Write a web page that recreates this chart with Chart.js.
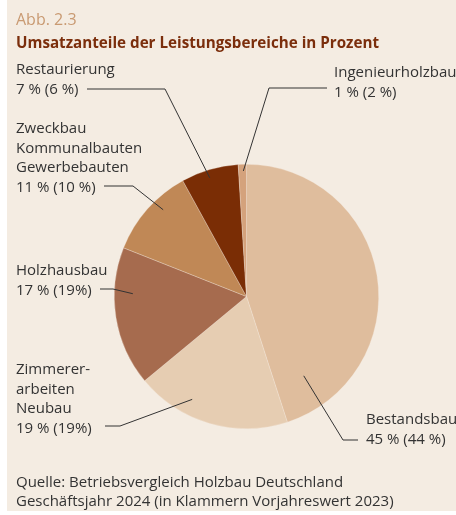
<!DOCTYPE html>
<html lang="de">
<head>
  <meta charset="UTF-8" />
  <title>Umsatzanteile der Leistungsbereiche</title>
  <script src="https://cdn.jsdelivr.net/npm/chart.js"></script>
  <style>
    * { box-sizing: border-box; }
    body { margin: 0; background: #fff; font-family: "Open Sans", sans-serif; overflow: hidden; }
    #panel {
      position: absolute; left: 7px; top: 0; width: 449px; height: 511px;
      background: #f4ece2;
    }
    #stage { position: absolute; left: 0; top: 0; width: 456px; height: 515px; }
    .txt { position: absolute; font-size: 15px; line-height: 19.4px; color: #333; white-space: pre; }
    #abb { left: 16px; top: 10px; font-size: 16px; color: #c99a72; }
    #title { left: 16px; top: 33px; font-size: 15.2px; font-weight: 700; color: #7b2e0c; }
    #source { left: 16px; top: 472px; }
  </style>
</head>
<body>
  <div id="panel"></div>
  <div id="stage"><canvas id="pie"></canvas></div>
  <div class="txt" id="abb">Abb. 2.3</div>
  <div class="txt" id="title">Umsatzanteile der Leistungsbereiche in Prozent</div>
  <div class="txt" id="source">Quelle: Betriebsvergleich Holzbau Deutschland
Geschäftsjahr 2024 (in Klammern Vorjahreswert 2023)</div>

  <script>
    // --- Daten (im Uhrzeigersinn ab 12 Uhr) ---
    const categories = ['Bestandsbau', 'Zimmerer-\narbeiten\nNeubau', 'Holzhausbau',
                        'Zweckbau\nKommunalbauten\nGewerbebauten', 'Restaurierung', 'Ingenieurholzbau'];
    const share2024 = [45, 19, 17, 11, 7, 1];
    const share2023 = [44, 19, 19, 10, 6, 2];
    const valueLabels = ['45 % (44 %)', '19 % (19%)', '17 % (19%)', '11 % (10 %)', '7 % (6 %)', '1 % (2 %)'];
    const colors = ['#dfbd9d', '#e6cdb2', '#a66b4e', '#c08856', '#7a2d05', '#d4a27c'];

    // --- Beschriftung: Text-Position + Führungslinie ---
    // t = Anteil im Segment (Winkel), r = Anteil des Radius, elbow/end = Knick- und Endpunkt
    const callouts = [
      { x: 366, y: 419, t: 0.89, r: 0.74, elbow: [343, 440], end: [358, 440] },
      { x: 16,  y: 369, t: 0.67, r: 0.88, elbow: [120, 426], end: [105, 426] },
      { x: 16,  y: 270, t: 0.67, r: 0.86, elbow: [113, 289], end: [100, 289] },
      { x: 16,  y: 128, t: 0.62, r: 0.91, elbow: [133, 186], end: [104, 186] },
      { x: 16,  y: 69,  t: 0.46, r: 0.94, elbow: [165, 89],  end: [87, 89] },
      { x: 334, y: 72,  t: 0.60, r: 0.95, elbow: [269, 88],  end: [327, 88] }
    ];

    categories.forEach((c, i) => {
      const d = document.createElement('div');
      d.className = 'txt';
      d.style.left = callouts[i].x + 'px';
      d.style.top = (callouts[i].y - 9.7) + 'px';
      d.textContent = c + '\n' + valueLabels[i];
      document.body.appendChild(d);
    });

    const leaderLines = {
      id: 'leaderLines',
      afterDatasetsDraw(chart) {
        const ctx = chart.ctx;
        const arcs = chart.getDatasetMeta(0).data;
        ctx.save();
        ctx.strokeStyle = '#333';
        ctx.lineWidth = 1;
        arcs.forEach((arc, i) => {
          const c = callouts[i];
          const p = arc.getProps(['x', 'y', 'startAngle', 'endAngle', 'outerRadius'], true);
          const a = p.startAngle + (p.endAngle - p.startAngle) * c.t;
          const ax = p.x + Math.cos(a) * p.outerRadius * c.r;
          const ay = p.y + Math.sin(a) * p.outerRadius * c.r;
          ctx.beginPath();
          ctx.moveTo(ax, ay);
          ctx.lineTo(c.elbow[0], c.elbow[1]);
          ctx.lineTo(c.end[0], c.end[1]);
          ctx.stroke();
        });
        ctx.restore();
      }
    };

    new Chart(document.getElementById('pie'), {
      type: 'pie',
      data: {
        labels: categories,
        datasets: [{
          data: share2024,
          backgroundColor: colors,
          borderColor: 'rgba(244,236,226,0.5)',
          borderWidth: 0.6
        }]
      },
      options: {
        responsive: true,
        maintainAspectRatio: false,
        animation: false,
        layout: { padding: { left: 114, right: 77, top: 164, bottom: 86 } },
        plugins: {
          legend: { display: false },
          tooltip: { enabled: false }
        }
      },
      plugins: [leaderLines]
    });
  </script>
</body>
</html>
